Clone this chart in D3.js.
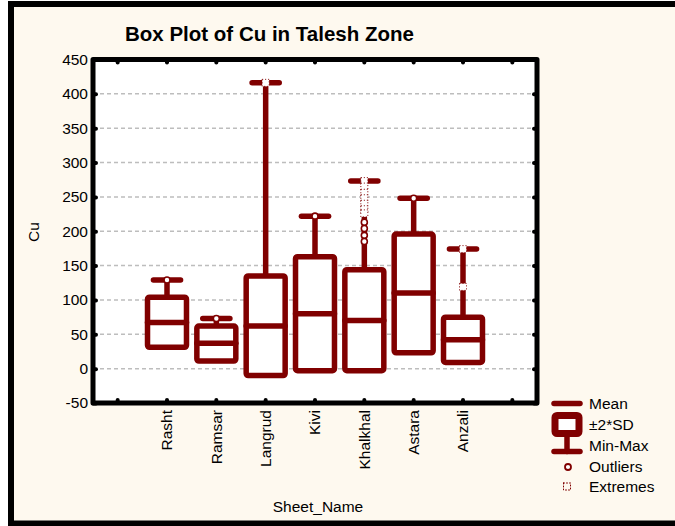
<!DOCTYPE html>
<html>
<head>
<meta charset="utf-8">
<script src="https://cdn.jsdelivr.net/npm/d3@7"></script>
<style>
  html, body { margin: 0; background: #ffffff; overflow: hidden; }
  svg { display: block; }
  text { font-family: "Liberation Sans", Arial, sans-serif; fill: #000; }
</style>
</head>
<body>
<div id="chartContainer"></div>
<script>
// Sheet names and the box statistics
const sheets = ["Rasht", "Ramsar", "Langrud", "Kivi", "Khalkhal", "Astara", "Anzali"];
const means = [67, 37, 62, 80, 70, 110, 42];
const boxLow = [31, 11, -10, -3, -3, 23, 9];
const boxHigh = [104, 62, 135, 163, 144, 196, 75];
const maxs = [129, 73, 416, 222, 273, 248, 174];
const outliers = [[129], [73], [], [222], [213, 204, 194, 185], [248], []];
const extremes = [[], [], [416], [], [273, 265, 256, 248, 240, 232, 226], [], [174, 119]];
const yTicks = [-50, 0, 50, 100, 150, 200, 250, 300, 350, 400, 450];
const legendItems = ["Mean", "\u00b12*SD", "Min-Max", "Outliers", "Extremes"];

function createChart() {
    const width = 675;
    const height = 526;
    const marginTop = 59.5;
    const marginLeft = 93;
    const plotRight = 537;
    const plotBottom = 403;
    const red = "#800000";

    const svg = d3.create("svg")
        .attr("viewBox", [0, 0, width, height])
        .attr("width", width)
        .attr("height", height);

    // outer panel (runs off the right edge like the original)
    svg.append("rect")
        .attr("x", 11).attr("y", 4)
        .attr("width", 720).attr("height", 519.5)
        .attr("fill", "#fef9ef")
        .attr("stroke", "#000").attr("stroke-width", 6);

    // 9 slots, sheets sit in slots 1..7
    const x = d3.scaleBand()
        .domain(d3.range(9))
        .range([marginLeft, plotRight]);

    const y = d3.scaleLinear()
        .domain([-50, 450])
        .range([plotBottom, marginTop]);

    svg.append("rect")
        .attr("x", marginLeft).attr("y", marginTop)
        .attr("width", plotRight - marginLeft).attr("height", plotBottom - marginTop)
        .attr("fill", "#fff");

    // grid
    svg.append("g")
        .selectAll("line")
        .data(yTicks.slice(1, -1))
        .join("line")
        .attr("x1", marginLeft).attr("x2", plotRight)
        .attr("y1", d => y(d)).attr("y2", d => y(d))
        .attr("stroke", "#bdbdbd")
        .attr("stroke-width", 1.5)
        .attr("stroke-dasharray", "4,3");

    const bw = x.bandwidth();
    const cx = i => x(i + 1) + bw / 2;
    const boxW = bw * 0.79;
    const capW = bw * 0.55;

    const g = svg.append("g")
        .attr("stroke", red)
        .attr("stroke-width", 5.5)
        .attr("stroke-linecap", "round")
        .attr("fill", "none");

    sheets.forEach((s, i) => {
        // whisker up to the max
        g.append("line")
            .attr("x1", cx(i)).attr("x2", cx(i))
            .attr("y1", y(boxHigh[i])).attr("y2", y(maxs[i]));
        g.append("line")
            .attr("x1", cx(i) - capW / 2).attr("x2", cx(i) + capW / 2)
            .attr("y1", y(maxs[i])).attr("y2", y(maxs[i]));
        // box
        g.append("rect")
            .attr("x", cx(i) - boxW / 2)
            .attr("y", y(boxHigh[i]))
            .attr("width", boxW)
            .attr("height", y(boxLow[i]) - y(boxHigh[i]))
            .attr("rx", 2)
            .attr("fill", "#fff")
            .attr("stroke-linejoin", "round");
        // mean
        g.append("line")
            .attr("x1", cx(i) - boxW / 2).attr("x2", cx(i) + boxW / 2)
            .attr("y1", y(means[i])).attr("y2", y(means[i]));
    });

    // outliers
    sheets.forEach((s, i) => {
        svg.append("g").selectAll("circle")
            .data(outliers[i])
            .join("circle")
            .attr("cx", cx(i)).attr("cy", d => y(d))
            .attr("r", 3)
            .attr("fill", "#fff")
            .attr("stroke", red).attr("stroke-width", 1.6);
    });

    // extremes
    sheets.forEach((s, i) => {
        svg.append("g").selectAll("rect")
            .data(extremes[i])
            .join("rect")
            .attr("x", cx(i) - 3.5).attr("y", d => y(d) - 3.5)
            .attr("width", 7).attr("height", 7)
            .attr("fill", "#fff")
            .attr("stroke", red).attr("stroke-width", 1)
            .attr("stroke-dasharray", "1,2");
    });

    // frame
    svg.append("rect")
        .attr("x", marginLeft).attr("y", marginTop)
        .attr("width", plotRight - marginLeft).attr("height", plotBottom - marginTop)
        .attr("fill", "none")
        .attr("stroke", "#000").attr("stroke-width", 5)
        .attr("stroke-linejoin", "round");

    const dotTicks = g => g
        .call(g => g.select(".domain").remove())
        .call(g => g.selectAll(".tick line")
            .attr("stroke", "#000")
            .attr("stroke-width", 4)
            .attr("stroke-linecap", "round"));

    // y axes
    svg.append("g")
        .attr("transform", `translate(${marginLeft},0)`)
        .call(d3.axisLeft(y).tickValues(yTicks).tickSize(-3).tickFormat(d => String(d)))
        .call(dotTicks)
        .call(g => g.selectAll(".tick text")
            .attr("x", -5)
            .style("font-size", "15.5px"));

    svg.append("g")
        .attr("transform", `translate(${plotRight},0)`)
        .call(d3.axisRight(y).tickValues(yTicks).tickSize(-3).tickFormat(""))
        .call(dotTicks);

    // x axes
    svg.append("g")
        .attr("transform", `translate(0,${plotBottom})`)
        .call(d3.axisBottom(x).tickSize(-3).tickFormat(i => sheets[i - 1] || ""))
        .call(dotTicks)
        .call(g => g.selectAll(".tick text")
            .attr("transform", "rotate(-90)")
            .attr("x", -7).attr("y", 0)
            .attr("dy", "0.35em")
            .style("text-anchor", "end")
            .style("font-size", "15.5px"));

    svg.append("g")
        .attr("transform", `translate(0,${marginTop})`)
        .call(d3.axisTop(x).tickSize(-3).tickFormat(""))
        .call(dotTicks);

    // titles
    svg.append("text")
        .attr("x", 125).attr("y", 41)
        .style("font-size", "20.5px")
        .style("font-weight", "bold")
        .text("Box Plot of Cu in Talesh Zone");

    svg.append("text")
        .attr("x", 318).attr("y", 512)
        .style("text-anchor", "middle")
        .style("font-size", "15.5px")
        .text("Sheet_Name");

    svg.append("text")
        .attr("transform", "translate(39,232) rotate(-90)")
        .style("text-anchor", "middle")
        .style("font-size", "15.5px")
        .text("Cu");

    // legend
    const lx = 567;
    const lg = svg.append("g")
        .attr("stroke", red)
        .attr("stroke-linecap", "round")
        .attr("fill", "none");
    lg.append("line")
        .attr("x1", lx - 13).attr("x2", lx + 13)
        .attr("y1", 403.5).attr("y2", 403.5)
        .attr("stroke-width", 5.5);
    lg.append("line")
        .attr("x1", lx).attr("x2", lx)
        .attr("y1", 435).attr("y2", 451.5)
        .attr("stroke-width", 5.5);
    lg.append("rect")
        .attr("x", lx - 12).attr("y", 415.5)
        .attr("width", 24).attr("height", 18)
        .attr("rx", 2)
        .attr("fill", "#fff")
        .attr("stroke-width", 7);
    lg.append("line")
        .attr("x1", lx - 13).attr("x2", lx + 13)
        .attr("y1", 451.5).attr("y2", 451.5)
        .attr("stroke-width", 5.5);
    lg.append("circle")
        .attr("cx", lx + 1).attr("cy", 467)
        .attr("r", 3)
        .attr("fill", "#fff")
        .attr("stroke-width", 1.8);
    lg.append("rect")
        .attr("x", lx - 3.5).attr("y", 483)
        .attr("width", 7).attr("height", 7)
        .attr("stroke-width", 1)
        .attr("stroke-dasharray", "1,2");

    svg.append("g")
        .selectAll("text")
        .data(legendItems)
        .join("text")
        .attr("x", 589)
        .attr("y", (d, i) => 404 + i * 20.7)
        .attr("dy", "0.35em")
        .style("font-size", "15.5px")
        .text(d => d);

    return svg.node();
}

document.getElementById("chartContainer").appendChild(createChart());
</script>
</body>
</html>
